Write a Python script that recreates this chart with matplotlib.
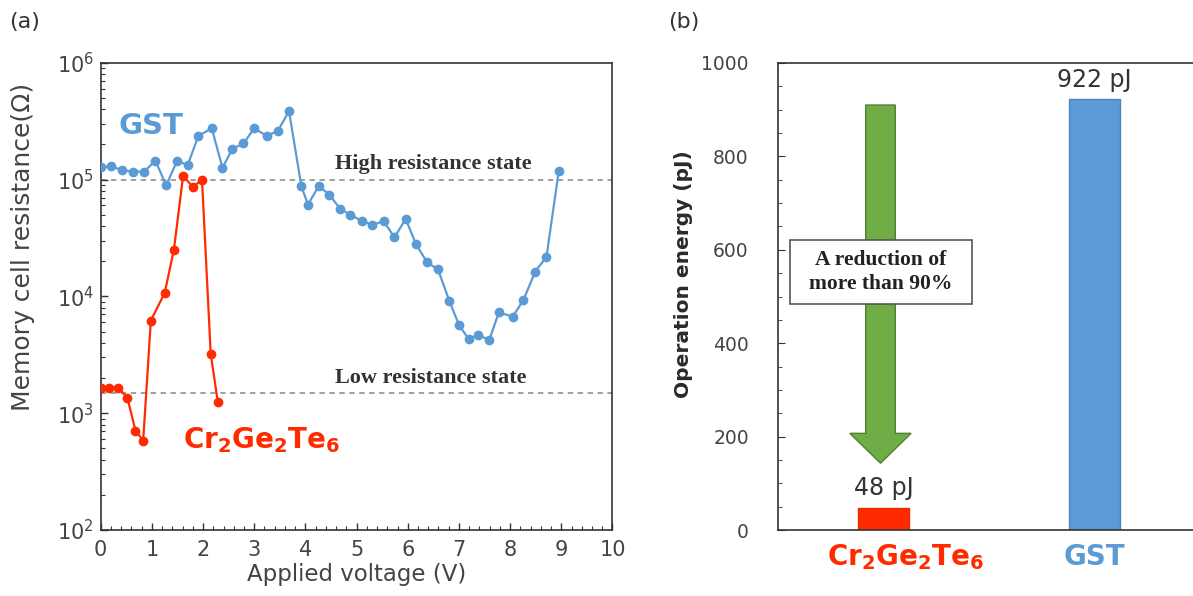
import matplotlib
matplotlib.use("Agg")
import matplotlib.pyplot as plt
from matplotlib.patches import FancyArrow, Rectangle
from matplotlib.ticker import LogLocator, MultipleLocator, NullFormatter
from matplotlib.transforms import ScaledTranslation

# (a) resistance vs applied voltage
gst_v = [0.00, 0.20, 0.42, 0.63, 0.85, 1.07, 1.28, 1.49, 1.70, 1.91, 2.17, 2.38, 2.57, 2.79,
         3.00, 3.24, 3.46, 3.68, 3.92, 4.05, 4.26, 4.47, 4.68, 4.88, 5.10, 5.31, 5.53, 5.74,
         5.96, 6.16, 6.38, 6.59, 6.81, 7.00, 7.19, 7.38, 7.59, 7.78, 8.05, 8.26, 8.49, 8.71, 8.95]
gst_r = [1.27e5, 1.30e5, 1.20e5, 1.17e5, 1.17e5, 1.45e5, 8.9e4, 1.44e5, 1.33e5, 2.37e5, 2.74e5,
         1.26e5, 1.82e5, 2.04e5, 2.74e5, 2.37e5, 2.60e5, 3.85e5, 8.8e4, 6.1e4, 8.8e4, 7.4e4,
         5.6e4, 5.0e4, 4.4e4, 4.1e4, 4.4e4, 3.2e4, 4.6e4, 2.8e4, 1.95e4, 1.7e4, 9.2e3, 5.7e3,
         4.3e3, 4.7e3, 4.2e3, 7.3e3, 6.7e3, 9.3e3, 1.63e4, 2.18e4, 1.18e5]
cgt_v = [0.00, 0.16, 0.34, 0.52, 0.68, 0.83, 0.98, 1.25, 1.43, 1.61, 1.80, 1.98, 2.15, 2.29]
cgt_r = [1.65e3, 1.65e3, 1.65e3, 1.36e3, 7.1e2, 5.8e2, 6.2e3, 1.07e4, 2.5e4, 1.07e5, 8.7e4,
         9.9e4, 3.2e3, 1.24e3]
hrs_level = 1.0e5
lrs_level = 1.48e3

# (b) operation energy
materials = [r'$\mathbf{Cr_2Ge_2Te_6}$', 'GST']
energy = [48, 922]
energy_labels = ['48 pJ', '922 pJ']

blue = '#5B9BD5'
red = '#FF2A00'
dark = '#333333'
grey = '#444444'

fig = plt.figure(figsize=(11.93, 5.96), dpi=100)
plt.rcParams['mathtext.fontset'] = 'dejavusans'

# ---- panel (a)
ax1 = fig.add_axes([0.0844, 0.1107, 0.429, 0.7841])
ax1.plot(gst_v, gst_r, '-o', color=blue, lw=1.6, ms=6, zorder=3)
ax1.plot(cgt_v, cgt_r, '-o', color=red, lw=1.6, ms=6, zorder=3)
ax1.axhline(hrs_level, color='#999999', ls=(0, (3, 2.5)), lw=1.3, zorder=1)
ax1.axhline(lrs_level, color='#999999', ls=(0, (3, 2.5)), lw=1.3, zorder=1)
ax1.set_yscale('log')
ax1.set_xlim(0, 10)
ax1.set_ylim(1e2, 1e6)
ax1.xaxis.set_major_locator(MultipleLocator(1))
ax1.xaxis.set_minor_locator(MultipleLocator(0.2))
ax1.yaxis.set_major_locator(LogLocator(base=10, numticks=10))
ax1.yaxis.set_minor_locator(LogLocator(base=10, subs=range(2, 10), numticks=20))
ax1.yaxis.set_minor_formatter(NullFormatter())
ax1.tick_params(which='both', direction='in', colors=dark, labelcolor=grey, top=False, right=False)
ax1.tick_params(which='major', length=5, width=1)
ax1.tick_params(which='minor', length=3, width=0.8)
ax1.tick_params(axis='x', labelsize=15, pad=7)
ax1.tick_params(axis='y', labelsize=15, pad=5)
for s in ax1.spines.values():
    s.set_color(dark)
    s.set_linewidth(1.2)
ax1.set_xlabel('Applied voltage (V)', fontsize=16.5, color=grey, labelpad=2)
ax1.set_ylabel('Memory cell resistance(Ω)', fontsize=18, color=grey)
ax1.yaxis.set_label_coords(-0.128, 0.605)

ax1.text(0.035, 0.865, 'GST', transform=ax1.transAxes, fontsize=21, fontweight='bold',
         color=blue, va='center')
ax1.text(0.16, 0.193, r'$\mathbf{Cr_2Ge_2Te_6}$', transform=ax1.transAxes, fontsize=20,
         color=red, va='center')
ax1.text(4.58, hrs_level * 1.12, 'High resistance state', fontsize=16, fontweight='bold',
         family='Liberation Serif', color=dark, va='bottom')
ax1.text(4.58, lrs_level * 1.12, 'Low resistance state', fontsize=16, fontweight='bold',
         family='Liberation Serif', color=dark, va='bottom')

# ---- panel (b)
ax2 = fig.add_axes([0.6521, 0.1107, 0.3479, 0.7836])
xpos = list(range(len(materials)))
bars = ax2.bar(xpos, energy, width=0.24, color=[red, blue],
               edgecolor=['#E62E00', '#4A86C0'], lw=1, zorder=2)
for xp, e, lab in zip(xpos, energy, energy_labels):
    ax2.text(xp, e + 16, lab, ha='center', va='bottom', fontsize=17, color=dark)
ax2.set_xlim(-0.501, 1.466)
ax2.set_ylim(0, 1000)
ax2.yaxis.set_major_locator(MultipleLocator(200))
ax2.yaxis.set_minor_locator(MultipleLocator(50))
ax2.tick_params(axis='y', which='both', direction='in', colors=dark, labelcolor=grey,
                labelsize=13.5, pad=21)
ax2.tick_params(axis='y', which='major', length=5)
ax2.tick_params(axis='y', which='minor', length=3)
ax2.set_xticks(xpos, materials)
ax2.tick_params(axis='x', length=0, labelsize=20, pad=9)
for lbl, c in zip(ax2.get_xticklabels(), [red, blue]):
    lbl.set_color(c)
    lbl.set_fontweight('bold')
first = ax2.get_xticklabels()[0]
first.set_transform(first.get_transform() + ScaledTranslation(0.22, 0, fig.dpi_scale_trans))
ax2.spines['right'].set_visible(False)
for s in ['left', 'top', 'bottom']:
    ax2.spines[s].set_color(dark)
    ax2.spines[s].set_linewidth(1.2)
ax2.set_ylabel('Operation energy (pJ)', fontsize=14.5, fontweight='bold', color='#2a2a2a')
ax2.yaxis.set_label_coords(-0.205, 0.548)

# reduction arrow and box
arrow = FancyArrow(-0.015, 910, 0, -767, width=0.14, head_width=0.29, head_length=64,
                   length_includes_head=True, facecolor='#70AD47', edgecolor='#507E32',
                   lw=1, zorder=3)
ax2.add_patch(arrow)
ax2.add_patch(Rectangle((-0.445, 484), 0.862, 137, facecolor='white', edgecolor='#555555',
                        lw=1.2, zorder=4))
ax2.text(-0.014, 552, 'A reduction of\nmore than 90%', ha='center', va='center',
         fontsize=15.5, fontweight='bold', family='Liberation Serif', color='#222222',
         linespacing=1.25, zorder=5)

fig.text(0.008, 0.963, '(a)', fontsize=16, color=dark, va='center')
fig.text(0.560, 0.963, '(b)', fontsize=16, color=dark, va='center')

fig.savefig('out.png', dpi=100)
